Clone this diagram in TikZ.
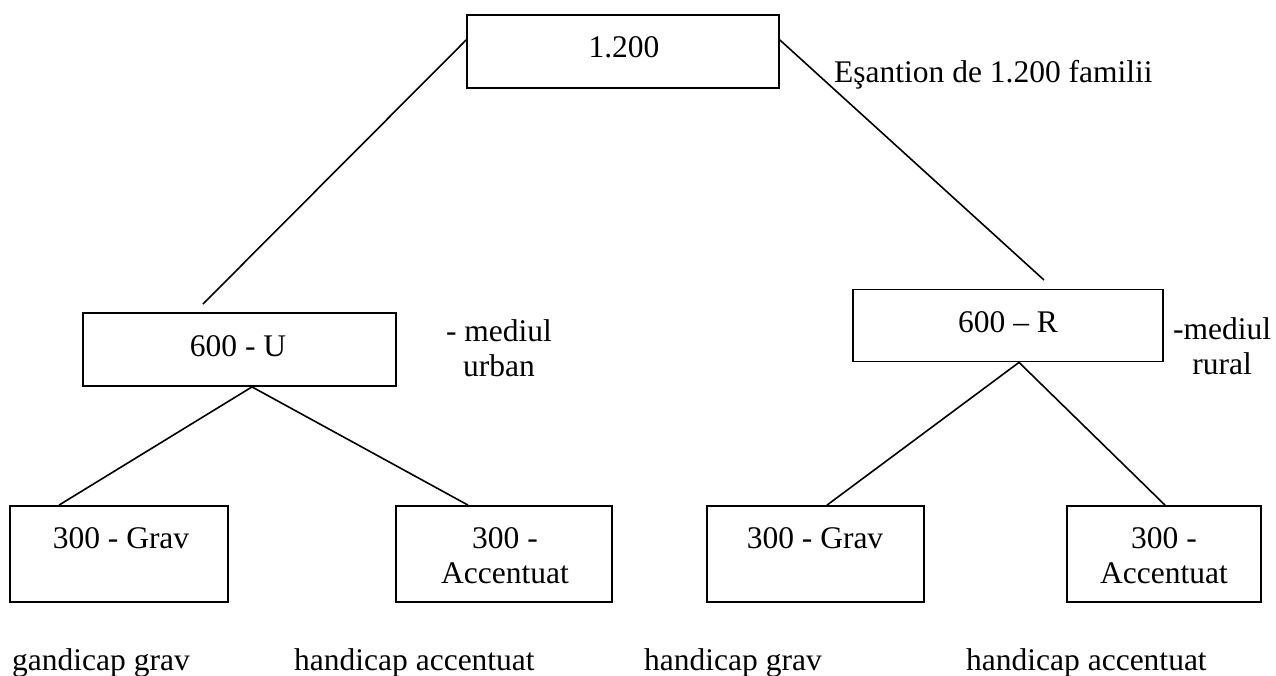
\documentclass[tikz,border=0pt]{standalone}
\usepackage{fontspec}
\setmainfont{Liberation Serif}
\usetikzlibrary{calc}
\begin{document}
\begin{tikzpicture}[x=1pt,y=-1pt,
  box/.style={draw, line width=1.8pt, inner sep=0pt},
  lbl/.style={inner sep=0pt, anchor=base, font=\fontsize{31.5}{35}\selectfont},
  conn/.style={line width=1.6pt}]
\useasboundingbox (0,0) rectangle (1276,675);
% boxes
\node[box, minimum width=312pt, minimum height=73pt] (top) at (623,51.5) {};
\node[box, minimum width=313pt, minimum height=73pt] (U) at (239.5,349.5) {};
\node[box, minimum width=310pt, minimum height=72pt] (R) at (1008,325.5) {};
\node[box, minimum width=218pt, minimum height=96pt] (UG) at (119,554) {};
\node[box, minimum width=216pt, minimum height=96pt] (UA) at (504,554) {};
\node[box, minimum width=217pt, minimum height=96pt] (RG) at (815.5,554) {};
\node[box, minimum width=194pt, minimum height=96pt] (RA) at (1164,554) {};
% texts
\node[lbl] (ttop) at (624,57) {1.200};
\node[lbl, anchor=base west] (tes) at (834,82) {Eşantion de 1.200 familii};
\node[lbl] (tU) at (238,356) {600 - U};
\node[lbl, align=center] (tUm) at (499,376) {- mediul\\urban};
\node[lbl] (tR) at (1008,332) {600 – R};
\node[lbl, align=center] (tRm) at (1222,374) {-mediul\\rural};
\node[lbl] (tUG) at (121,548) {300 - Grav};
\node[lbl, align=center] (tUA) at (505,583) {300 -\\Accentuat};
\node[lbl] (tRG) at (815,548) {300 - Grav};
\node[lbl, align=center] (tRA) at (1164,583) {300 -\\Accentuat};
\node[lbl, anchor=base west] (b1) at (12,670) {gandicap grav};
\node[lbl, anchor=base west] (b2) at (294,670) {handicap accentuat};
\node[lbl, anchor=base west] (b3) at (644,670) {handicap grav};
\node[lbl, anchor=base west] (b4) at (966,670) {handicap accentuat};
% free ends of the top connectors
\coordinate (uend) at (203,304);
\coordinate (rend) at (1044,280);
% connectors
\draw[conn] ([yshift=11.5pt]top.west) -- (uend);
\draw[conn] ([yshift=11.5pt]top.east) -- (rend);
\draw[conn] ([xshift=12.5pt]U.south) -- ([xshift=-60pt]UG.north);
\draw[conn] ([xshift=12.5pt]U.south) -- ([xshift=-36pt]UA.north);
\draw[conn] ([xshift=11pt]R.south) -- ([xshift=11.5pt]RG.north);
\draw[conn] ([xshift=11pt]R.south) -- ([xshift=1pt]RA.north);
\end{tikzpicture}
\end{document}
